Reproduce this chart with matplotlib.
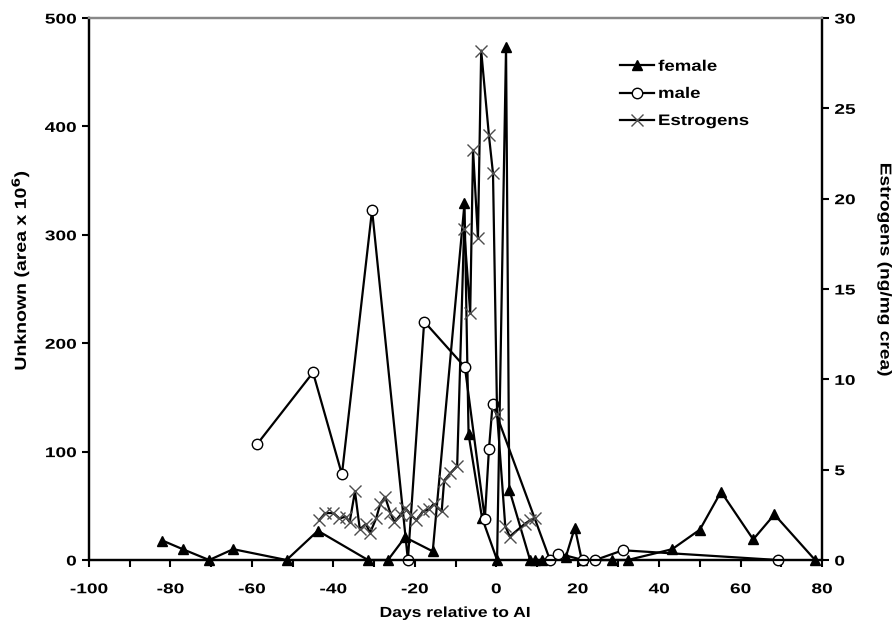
import matplotlib
matplotlib.use("Agg")
import matplotlib.pyplot as plt
from matplotlib.ticker import MultipleLocator
from matplotlib.patheffects import AbstractPathEffect
from matplotlib.transforms import Affine2D

plt.rcParams['font.family'] = ['Liberation Sans', 'DejaVu Sans']
plt.rcParams['font.weight'] = 'bold'
plt.rcParams['axes.unicode_minus'] = False
plt.rcParams['mathtext.default'] = 'bf'

female_x = [-82, -77, -70.5, -64.6, -51.5, -43.8, -31.5, -26.6, -22.4, -15.6, -7.8, -6.8, -3.5, 0.2, 2.4, 3.2,
            8.3, 9.5, 11.2, 17.1, 19.3, 21.0, 28.4, 32.3, 43.2, 50, 55.2, 63.1, 68.3, 78.3]
female_y = [18, 10, 0, 10, 0, 27, 0, 0, 21, 8, 329, 116, 39, 0, 473, 65,
            0, 0, 0, 3, 30, 0, 0, 0, 10, 28, 63, 19, 42, 0]

male_x = [-58.7, -45, -37.9, -30.5, -21.7, -17.7, -7.7, -2.8, -1.8, -0.9, 13.2, 15.2, 21.3, 24.3, 31.1, 69.2]
male_y = [107, 173, 79, 323, 0, 220, 178, 38, 102, 144, 0, 6, 0, 0, 9, 0]

estro_x = [-43.5, -42, -40, -38.5, -37, -36, -34.7, -33.5, -32, -31, -29.5, -28.5, -27.3, -26, -25, -23.5,
           -22.4, -21, -19.6, -18, -16.5, -15.4, -13.4, -12.8, -11.3, -9.6,
           -7.9, -6.4, -5.7, -4.5, -3.7, -1.8, -0.8, 0.2, 2.2, 3.3, 7.0, 8.3, 9.6]
estro_y = [2.2, 2.6, 2.6, 2.3, 2.4, 2.1, 3.8, 1.7, 2.0, 1.5, 2.3, 3.1, 3.5, 2.6, 2.1, 2.5,
           2.9, 2.5, 2.2, 2.7, 2.8, 3.1, 2.7, 4.4, 4.8, 5.2,
           18.3, 13.7, 22.7, 17.8, 28.2, 23.5, 21.4, 8.1, 1.9, 1.3, 2.0, 2.2, 2.3]


class Stretch(AbstractPathEffect):
    """Widen rendered glyphs along the text direction (the reference lettering is wide)."""
    def __init__(self, sx=1.3, anchor=0.5):
        super().__init__()
        self.sx = sx
        self.anchor = anchor

    def draw_path(self, renderer, gc, tpath, affine, rgbFace=None):
        ext = tpath.get_extents()
        a0 = ext.x0 + self.anchor * (ext.x1 - ext.x0)
        t = Affine2D().translate(-a0, 0).scale(self.sx, 1).translate(a0, 0) + affine
        renderer.draw_path(gc, tpath, t, rgbFace)


SX = 1.35

fig = plt.figure(figsize=(8.94, 6.26), dpi=100)
ax = fig.add_axes([0.0996, 0.1054, 0.8199, 0.8658])
ax2 = ax.twinx()

l1, = ax.plot(female_x, female_y, color='black', lw=1.6, marker='^', ms=7.5,
              mfc='black', mec='black', label='female', clip_on=False, zorder=3)
l2, = ax.plot(male_x, male_y, color='black', lw=1.6, marker='o', ms=7.5,
              mfc='white', mec='black', mew=1.0, label='male', clip_on=False, zorder=4)
l3, = ax2.plot(estro_x, estro_y, color='black', lw=1.6, marker='x', ms=9,
               mec='#4d4d4d', mew=1.0, label='Estrogens', clip_on=False, zorder=3)

ax.set_xlim(-100, 80)
ax.set_ylim(0, 500)
ax2.set_ylim(0, 30)
ax.xaxis.set_major_locator(MultipleLocator(20))
ax.xaxis.set_minor_locator(MultipleLocator(10))
ax.yaxis.set_major_locator(MultipleLocator(100))
ax2.yaxis.set_major_locator(MultipleLocator(5))

for a in (ax, ax2):
    a.tick_params(which='both', direction='out', width=1.5, length=5, labelsize=10.2)
    for s in ('left', 'right', 'bottom'):
        a.spines[s].set_linewidth(1.6)
    a.spines['top'].set_color('#888888')
    a.spines['top'].set_linewidth(1.6)
ax.tick_params(axis='x', pad=11)
ax.tick_params(axis='y', pad=4)
ax2.tick_params(axis='y', pad=4)

ax.set_xlabel('Days relative to AI', fontsize=10.5, fontweight='bold', labelpad=7)
ax.set_ylabel('Unknown (area x 10$^{6}$)', fontsize=11.5, fontweight='bold', va='center')
ax.yaxis.set_label_coords(-0.094, 0.535)
ax2.set_ylabel('Estrogens (ng/mg crea)', fontsize=11.3, fontweight='bold', rotation=270, va='center')
ax2.yaxis.set_label_coords(1.086, 0.535)

leg = ax2.legend(handles=[l1, l2, l3], loc='upper left', bbox_to_anchor=(0.7244, 0.923),
                 frameon=False, prop={'weight': 'bold', 'size': 11}, handlelength=2.2,
                 handletextpad=0.3, labelspacing=0.86, borderpad=0, borderaxespad=0)

fig.canvas.draw()
for lab in ax.get_xticklabels():
    lab.set_fontweight('bold'); lab.set_path_effects([Stretch(SX, 0.5)])
for lab in ax.get_yticklabels():
    lab.set_fontweight('bold'); lab.set_path_effects([Stretch(SX, 1.0)])
for lab in ax2.get_yticklabels():
    lab.set_fontweight('bold'); lab.set_path_effects([Stretch(SX, 0.0)])
ax.xaxis.label.set_path_effects([Stretch(1.2, 0.5)])
ax.yaxis.label.set_path_effects([Stretch(1.22, 0.5)])
ax2.yaxis.label.set_path_effects([Stretch(1.22, 0.5)])
for t in leg.get_texts():
    t.set_path_effects([Stretch(1.22, 0.0)])

fig.savefig('out.png', dpi=100)
